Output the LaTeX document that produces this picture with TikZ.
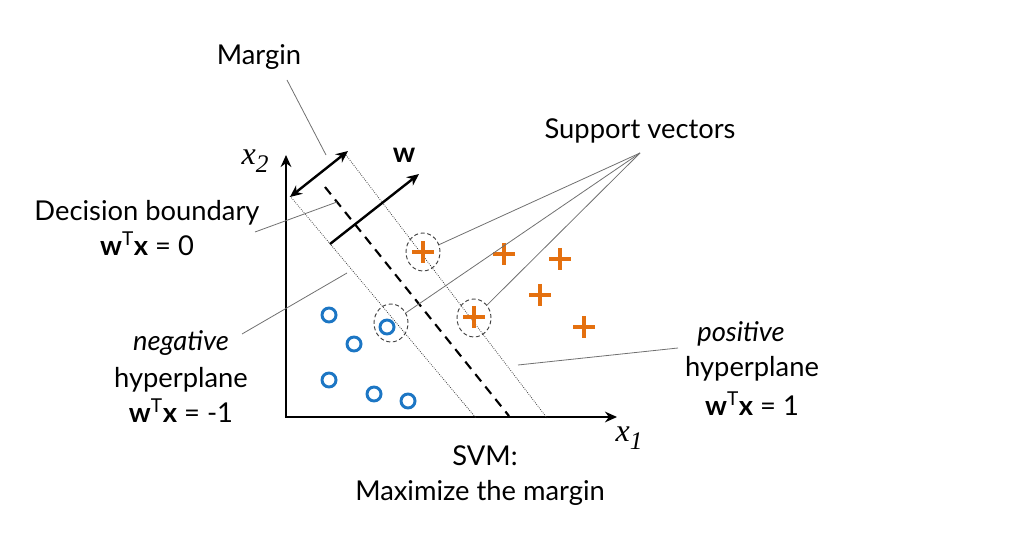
\documentclass[tikz,border=0pt]{standalone}
\usepackage{fontspec}
\setmainfont{Lato}
\newfontfamily\mathserif{Liberation Serif}
\usetikzlibrary{arrows.meta,shapes.geometric}
\definecolor{svorange}{HTML}{E4700F}
\definecolor{svblue}{HTML}{1C76C4}
\definecolor{leadgray}{HTML}{707070}
\begin{document}
\begin{tikzpicture}[x=0.75pt,y=-0.75pt,
  lbl/.style={font=\fontsize{20.5}{24}\selectfont, inner sep=0pt},
  lead/.style={draw=leadgray, line width=0.6pt},
  hyper/.style={draw=black!75, line width=0.6pt, densely dotted},
  axis/.style={line width=1.8pt, -{Stealth[length=9pt,width=8pt]}},
  vec/.style={line width=1.8pt, -{Stealth[length=9pt,width=8pt]}},
  svc/.style={ellipse, draw=black!75, densely dashed, line width=0.7pt, minimum width=25.5pt, minimum height=28.5pt, inner sep=0pt},
  bcirc/.style={circle, draw=svblue, line width=2.2pt, minimum size=10.5pt, inner sep=0pt},
  axlbl/.style={font=\fontsize{24}{24}\selectfont\mathserif\itshape, inner sep=0pt},
  pluss/.pic={\draw[svorange, line width=2.4pt] (-11,0)--(11,0) (0,-11)--(0,11);}
]
\useasboundingbox (0,0) rectangle (1030,541);

% axes
\coordinate (O) at (286,417);
\coordinate (Ytop) at (286,155);
\coordinate (Xend) at (617,417);
\draw[axis] (O) -- (Ytop);
\draw[axis] ([xshift=-0.9pt]O) -- (Xend);
\node[axlbl] (x2) at (255,161) {x\raisebox{-0.25em}{\fontsize{19}{19}\selectfont 2}};
\node[axlbl] (x1) at (629,438) {x\raisebox{-0.25em}{\fontsize{19}{19}\selectfont 1}};

% hyperplanes
\coordinate (n1) at (290,196);
\coordinate (n2) at (476,418);
\coordinate (d1) at (325,187);
\coordinate (d2) at (509,416);
\coordinate (p1) at (346,155);
\coordinate (p2) at (547,418);
\draw[hyper] (n1) -- (n2);
\draw[hyper] (p1) -- (p2);
\draw[line width=1.6pt, dash pattern=on 7pt off 5pt] (d1) -- (d2);

% margin arrow
\coordinate (m1) at (290,197);
\coordinate (m2) at (348,151);
\draw[line width=1.8pt, {Stealth[length=9pt,width=8pt]}-{Stealth[length=9pt,width=8pt]}] (m1) -- (m2);

% w arrow
\coordinate (w1) at (330,244);
\coordinate (w2) at (419,174);
\draw[vec] (w1) -- (w2);
\node[lbl, font=\fontsize{21}{24}\selectfont\bfseries] (wl) at (404,155) {w};

% labels
\node[lbl] (margin) at (259,57) {Margin};
\node[lbl] (supp) at (640,131) {Support vectors};
\node[lbl] (dec) at (147,213) {Decision boundary};
\node[lbl] (dec2) at (147,244) {\textbf{w}\textsuperscript{T}\textbf{x} = 0};
\node[lbl] (neg) at (181,343) {\itshape negative};
\node[lbl] (neg2) at (181,380) {hyperplane};
\node[lbl] (neg3) at (181,411) {\textbf{w}\textsuperscript{T}\textbf{x} = -1};
\node[lbl] (pos) at (741,334) {\itshape positive};
\node[lbl] (pos2) at (752,369) {hyperplane};
\node[lbl] (pos3) at (752,404) {\textbf{w}\textsuperscript{T}\textbf{x} = 1};
\node[lbl] (svm) at (485,456) {SVM:};
\node[lbl] (svm2) at (480,493) {Maximize the margin};

% support vector circles
\node[svc] (s1) at (423,252) {};
\node[svc] (s2) at (391,323) {};
\node[svc] (s3) at (474,318) {};

% data points
\pic at (423,252) {pluss};
\pic at (474,317) {pluss};
\pic at (504,254) {pluss};
\pic at (560,259) {pluss};
\pic at (540,295) {pluss};
\pic at (584,327) {pluss};
\node[bcirc] (c1) at (329,315) {};
\node[bcirc] (c2) at (354,344) {};
\node[bcirc] (c3) at (387,327) {};
\node[bcirc] (c4) at (329,380) {};
\node[bcirc] (c5) at (374,394) {};
\node[bcirc] (c6) at (408,401) {};

% leader lines
\coordinate (svp) at (640,153);
\draw[lead] (svp) -- (s1);
\draw[lead] (svp) -- (s2);
\draw[lead] (svp) -- (s3);
\coordinate (ml1) at (287,80);
\coordinate (ml2) at (326,155);
\draw[lead] (ml1) -- (ml2);
\coordinate (dl1) at (255,232);
\coordinate (dl2) at (337,202);
\draw[lead] (dl1) -- (dl2);
\coordinate (nl1) at (242,334);
\coordinate (nl2) at (347,273);
\draw[lead] (nl1) -- (nl2);
\coordinate (pl1) at (518,365);
\coordinate (pl2) at (678,348);
\draw[lead] (pl1) -- (pl2);
\end{tikzpicture}
\end{document}
